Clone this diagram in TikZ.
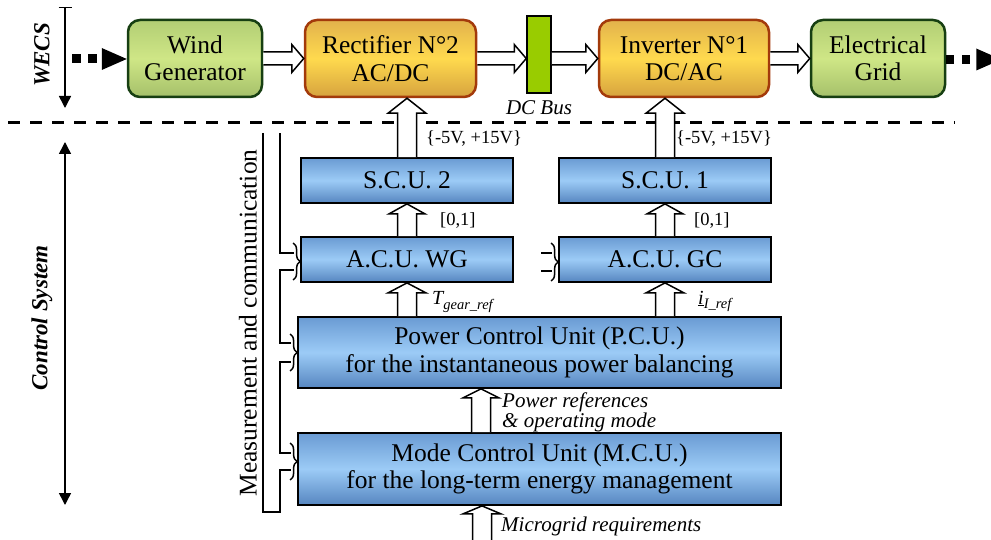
\documentclass[tikz,border=0pt]{standalone}
\usepackage{fontspec}
\setmainfont{Liberation Serif}
\usetikzlibrary{calc,arrows.meta,decorations.pathreplacing}
\definecolor{gtop}{HTML}{B2CE74}
\definecolor{gmid}{HTML}{CFE686}
\definecolor{gbot}{HTML}{A5C06A}
\definecolor{gborder}{HTML}{173F12}
\definecolor{otop}{HTML}{E2B24C}
\definecolor{omid}{HTML}{FFDA4E}
\definecolor{obot}{HTML}{D6A23E}
\definecolor{oborder}{HTML}{A33A0B}
\definecolor{btop}{HTML}{6A9BD3}
\definecolor{bmid}{HTML}{9CCBF6}
\definecolor{bbot}{HTML}{5686C0}
\definecolor{busg}{HTML}{99CC00}
\newcommand{\hollowH}[2]{%
  \draw[hollowline] let \p1=#1, \p2=#2 in
    (\x1,\y1+6.5) -- (\x2-12,\y1+6.5) -- (\x2-12,\y1+14) -- (\x2,\y1)
    -- (\x2-12,\y1-14) -- (\x2-12,\y1-6.5) -- (\x1,\y1-6.5);}
\newcommand{\hollowV}[4]{%
  \draw[hollowline] let \p1=#1, \p2=#2 in
    (\x1-9.5,\y1) -- (\x1-9.5,\y2-#3) -- (\x1-#4,\y2-#3) -- (\x1,\y2)
    -- (\x1+#4,\y2-#3) -- (\x1+9.5,\y2-#3) -- (\x1+9.5,\y1);}
\begin{document}
\begin{tikzpicture}[x=1pt,y=1pt,
  box/.style={draw, inner sep=0pt, align=center, font=\fontsize{25.5}{27.5}\selectfont},
  greenbox/.style={box, rounded corners=12pt, draw=gborder, line width=2.5pt,
     top color=gtop, bottom color=gbot, middle color=gmid,
     minimum width=134pt, minimum height=77pt},
  orangebox/.style={box, rounded corners=12pt, draw=oborder, line width=2.5pt,
     top color=otop, bottom color=obot, middle color=omid, minimum height=77pt},
  bluebox/.style={box, line width=1.8pt, top color=btop, bottom color=bbot, middle color=bmid},
  hollowline/.style={draw=black, line width=1.5pt, fill=white, line join=miter},
  busline/.style={line width=1.5pt},
  bracehead/.style={line width=1.5pt, decorate, decoration={brace, amplitude=7pt}},
  small/.style={font=\fontsize{18.5}{20}\selectfont, inner sep=0pt, anchor=west},
  itlabel/.style={font=\fontsize{21}{20}\selectfont\itshape, inner sep=0pt, anchor=west, align=left},
  side/.style={font=\fontsize{23}{25}\selectfont\bfseries\itshape, rotate=90, inner sep=0pt}
]
\useasboundingbox (0,0) rectangle (991,-540);
\clip (0,0) rectangle (991,-540);

% section separator
\coordinate (dl) at (8,-123);
\coordinate (dr) at (955,-123);
\draw[line width=3pt, dash pattern=on 12pt off 10pt] (dl) -- (dr);

% side arrows and labels
\coordinate (wt) at (65,-7);
\coordinate (wb) at (65,-108);
\draw[line width=1.5pt, {Bar[width=13pt]}-{Triangle[length=12pt,width=12pt]}] (wt) -- (wb);
\node[side] (wecs) at (42,-55) {WECS};
\coordinate (ct) at (65,-142);
\coordinate (cb) at (65,-505);
\draw[line width=1.5pt, {Triangle[length=12pt,width=12pt]}-{Triangle[length=12pt,width=12pt]}] (ct) -- (cb);
\node[side] (ctrl) at (42,-318) {Control System};

% top row
\node[greenbox] (wg) at (195,-58.5) {Wind\\Generator};
\node[orangebox, minimum width=171pt] (rect) at (390.5,-58.5) {Rectifier N°2\\AC/DC};
\node[draw, line width=1.5pt, fill=busg, minimum width=24pt, minimum height=77pt, inner sep=0pt] (bus) at (539,-54.5) {};
\node[font=\fontsize{21}{22}\selectfont\itshape, inner sep=0pt] (buslabel) at (539,-108) {DC Bus};
\node[orangebox, minimum width=170pt] (inv) at (684,-58.5) {Inverter N°1\\DC/AC};
\node[greenbox] (grid) at (878,-58.5) {Electrical\\Grid};

% dotted in/out arrows
\coordinate (lin) at (72,-59);
\draw[line width=9pt, dash pattern=on 9pt off 7pt] (lin) -- ($(wg.west)+(-25,-0.5)$);
\fill ($(wg.west)+(0,-0.5)$) -- ++(-25,11) -- ++(0,-22) -- cycle;
\coordinate (lout) at ($(grid.east)+(30,-1)$);
\draw[line width=9pt, dash pattern=on 8pt off 8pt] ($(grid.east)+(0,-1)$) -- (lout);
\fill (lout) ++(0,11) -- ++(25,-11) -- ++(-25,-11) -- cycle;

% hollow power arrows
\hollowH{(wg.east)}{(rect.west)}
\hollowH{(rect.east)}{(rect.east -| bus.west)}
\hollowH{(inv.west -| bus.east)}{(inv.west)}
\hollowH{(inv.east)}{(grid.west)}

% control boxes
\node[bluebox, minimum width=212pt, minimum height=45pt] (scu2) at (407,-180.5) {S.C.U. 2};
\node[bluebox, minimum width=212pt, minimum height=45pt] (scu1) at (665,-180.5) {S.C.U. 1};
\node[bluebox, minimum width=212pt, minimum height=45pt] (acuwg) at (407,-259.5) {A.C.U. WG};
\node[bluebox, minimum width=212pt, minimum height=45pt] (acugc) at (665,-259.5) {A.C.U. GC};
\node[bluebox, minimum width=483pt, minimum height=71pt] (pcu) at (539.5,-352.5) {Power Control Unit (P.C.U.)\\for the instantaneous power balancing};
\node[bluebox, minimum width=483pt, minimum height=72pt] (mcu) at (539.5,-469) {Mode Control Unit (M.C.U.)\\for the long-term energy management};

% vertical hollow arrows
\hollowV{(scu2.north)}{(scu2.north |- rect.south)}{15}{19}
\hollowV{(scu1.north)}{(scu1.north |- inv.south)}{15}{19}
\hollowV{(acuwg.north)}{(scu2.south)}{10}{18}
\hollowV{(acugc.north)}{(scu1.south)}{10}{18}
\hollowV{(pcu.north -| acuwg.north)}{(acuwg.south)}{10}{19}
\hollowV{(pcu.north -| acugc.north)}{(acugc.south)}{10}{19}
\coordinate (pm) at ($(mcu.north)+(-58.5,0)$);
\hollowV{(pm)}{(pm |- pcu.south)}{9}{18}
\coordinate (mg) at (482,-545);
\hollowV{(mg)}{(mg |- mcu.south)}{8}{19}

% labels
\node[small] (v2) at (426,-139) {\{-5V, +15V\}};
\node[small] (v1) at (676,-139) {\{-5V, +15V\}};
\node[small] (b2) at (440,-221) {[0,1]};
\node[small] (b1) at (694,-221) {[0,1]};
\node[inner sep=0pt, anchor=west, font=\fontsize{20}{20}\selectfont\itshape] (tg) at (432,-302)
  {T\raisebox{-0.45ex}{\fontsize{14.5}{14.5}\selectfont gear\_ref}};
\node[inner sep=0pt, anchor=west, font=\fontsize{20}{20}\selectfont\itshape] (ir) at (698,-301)
  {\underline{i}\raisebox{-0.45ex}{\fontsize{14.5}{14.5}\selectfont I\_ref}};
\node[itlabel] (pr) at (502,-412) {Power references\\\& operating mode};
\node[itlabel] (mr) at (501,-526) {Microgrid requirements};

% measurement and communication bus
\node[font=\fontsize{25.5}{27}\selectfont, rotate=90, inner sep=0pt] (meas) at (248,-323) {Measurement and communication};
\draw[busline] (263,-133) -- (263,-512) -- (280,-512) -- (280,-470) -- (291,-470);
\draw[busline] (291,-453) -- (280,-453) -- (280,-362) -- (291,-362);
\draw[busline] (291,-343) -- (280,-343) -- (280,-270) -- (294,-270);
\draw[busline] (294,-253) -- (280,-253) -- (280,-133);
\draw[bracehead] ($(acuwg.west |- 0,-243)+(-7,0)$) -- ($(acuwg.west |- 0,-280)+(-7,0)$);
\draw[bracehead] ($(pcu.west |- 0,-334)+(-7,0)$) -- ($(pcu.west |- 0,-371)+(-7,0)$);
\draw[bracehead] ($(mcu.west |- 0,-443)+(-7,0)$) -- ($(mcu.west |- 0,-480)+(-7,0)$);
\draw[busline] (541,-253) -- (552,-253);
\draw[busline] (541,-271) -- (552,-271);
\draw[bracehead] ($(acugc.west |- 0,-243)+(-7,0)$) -- ($(acugc.west |- 0,-281)+(-7,0)$);
\end{tikzpicture}
\end{document}
